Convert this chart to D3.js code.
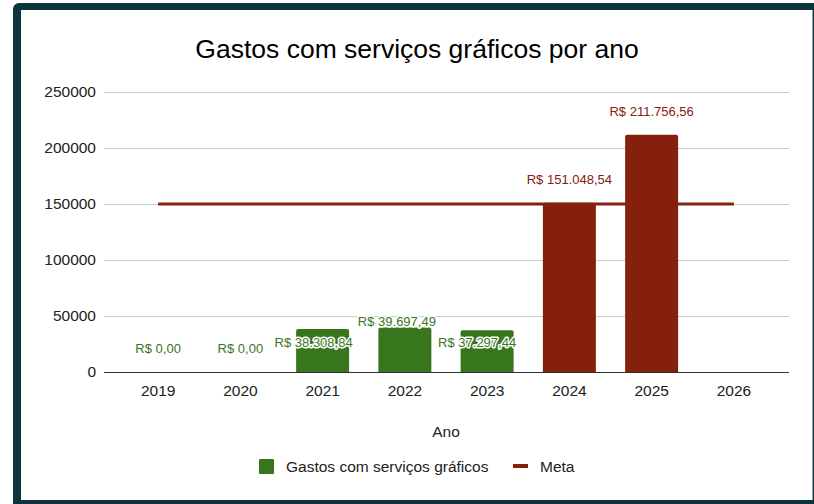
<!DOCTYPE html>
<html>
<head>
<meta charset="utf-8">
<script src="https://cdn.jsdelivr.net/npm/d3@7"></script>
<style>
  html, body { margin: 0; padding: 0; background: #fff; }
  svg { display: block; font-family: "Liberation Sans", Arial, sans-serif; }
</style>
</head>
<body>
<svg id="chart" width="814" height="504"></svg>
<script>
// ---- data ----
const years = ["2019", "2020", "2021", "2022", "2023", "2024", "2025", "2026"];
const gastos = [0, 0, 38308.84, 39697.49, 37297.44, 151048.54, 211756.56, null];
const meta = [150000, 150000, 150000, 150000, 150000, 150000, 150000, 150000];
const yTicks = [0, 50000, 100000, 150000, 200000, 250000];
const title = "Gastos com serviços gráficos por ano";
const xTitle = "Ano";
const seriesNames = ["Gastos com serviços gráficos", "Meta"];

// ---- layout / style ----
const green = "#38761d", red = "#85200c";
const labelNudgeY = [0, 0, 37, 17.5, 36, 0, 0, 0];
const labelNudgeX = [0, 0, -9, -8, -10, 0, 0, 0];

const svg = d3.select("#chart");

// frame
svg.append("rect").attr("x", 13).attr("y", 3).attr("width", 830).attr("height", 530)
  .attr("rx", 6).attr("fill", "#0c343d");
svg.append("rect").attr("x", 21).attr("y", 10).attr("width", 791).attr("height", 490)
  .attr("fill", "#ffffff");
svg.append("line").attr("x1", 812.5).attr("x2", 812.5).attr("y1", 10).attr("y2", 500)
  .attr("stroke", "#9aa5a8").attr("stroke-width", 1);

const x = d3.scaleBand().domain(years).range([117, 775]).paddingInner(0.356).paddingOuter(0.178);
const y = d3.scaleLinear().domain([0, 250000]).range([372, 92]);
const gridX0 = 104, gridX1 = 789;

// title
svg.append("text").attr("x", 417).attr("y", 58).attr("text-anchor", "middle")
  .attr("font-size", 26.5).attr("fill", "#000").text(title);

// gridlines
svg.append("g").selectAll("line").data(yTicks.filter(d => d > 0)).join("line")
  .attr("x1", gridX0).attr("x2", gridX1)
  .attr("y1", d => Math.round(y(d)) + 0.5).attr("y2", d => Math.round(y(d)) + 0.5)
  .attr("stroke", "#cccccc").attr("stroke-width", 1);

// y axis labels
const yAxis = d3.axisLeft(y).tickValues(yTicks).tickSize(0).tickPadding(0).tickFormat(d3.format("d"));
const gy = svg.append("g").attr("transform", `translate(96,0)`).call(yAxis);
gy.select(".domain").remove();
gy.selectAll("text").attr("font-size", 15.5).attr("fill", "#222").attr("font-family", "Liberation Sans, Arial, sans-serif");

// bars
const barData = years.map((yr, i) => ({ yr, v: gastos[i], i })).filter(d => d.v !== null);
const colorOf = d => (d.i >= 5 ? red : green);
svg.append("g").selectAll("path").data(barData.filter(d => d.v > 0)).join("path")
  .attr("d", d => {
    const x0 = x(d.yr), w = x.bandwidth(), y0 = y(d.v), y1 = y(0), r = 2;
    return `M${x0},${y1} L${x0},${y0 + r} Q${x0},${y0} ${x0 + r},${y0} L${x0 + w - r},${y0} Q${x0 + w},${y0} ${x0 + w},${y0 + r} L${x0 + w},${y1} Z`;
  })
  .attr("fill", colorOf);

// baseline
svg.append("line").attr("x1", gridX0).attr("x2", gridX1)
  .attr("y1", y(0) + 0.5).attr("y2", y(0) + 0.5).attr("stroke", "#333").attr("stroke-width", 1.2);

// meta line
const line = d3.line().x((d, i) => x(years[i]) + x.bandwidth() / 2).y(d => y(d));
svg.append("path").datum(meta).attr("d", line).attr("fill", "none")
  .attr("stroke", red).attr("stroke-width", 3);

// x axis labels
const xAxis = d3.axisBottom(x).tickSize(0).tickPadding(0);
const gx = svg.append("g").attr("transform", `translate(0,${y(0)})`).call(xAxis);
gx.select(".domain").remove();
gx.selectAll("text").attr("font-size", 15.5).attr("fill", "#222").attr("dy", null).attr("y", 24)
  .attr("font-family", "Liberation Sans, Arial, sans-serif");

// data labels
const loc = d3.formatLocale({ decimal: ",", thousands: ".", grouping: [3], currency: ["R$ ", ""] });
const fmt = loc.format("$,.2f");
svg.append("g").selectAll("text").data(barData).join("text")
  .attr("x", d => x(d.yr) + x.bandwidth() / 2 + labelNudgeX[d.i])
  .attr("y", d => y(d.v) - 19 + labelNudgeY[d.i])
  .attr("text-anchor", "middle").attr("font-size", 13)
  .attr("fill", colorOf)
  .attr("stroke", d => (d.i >= 2 && d.i <= 4 ? "#fff" : "none"))
  .attr("stroke-width", 3).attr("paint-order", "stroke").attr("stroke-linejoin", "round")
  .text(d => fmt(d.v));

// x title
svg.append("text").attr("x", 446).attr("y", 437).attr("text-anchor", "middle")
  .attr("font-size", 15.5).attr("fill", "#222").text(xTitle);

// legend
const lg = svg.append("g");
lg.append("rect").attr("x", 259).attr("y", 459).attr("width", 15).attr("height", 15).attr("rx", 1).attr("fill", green);
lg.append("text").attr("x", 286).attr("y", 472).attr("font-size", 15.5).attr("fill", "#222").text(seriesNames[0]);
lg.append("line").attr("x1", 513).attr("x2", 528).attr("y1", 466).attr("y2", 466).attr("stroke", red).attr("stroke-width", 4);
lg.append("text").attr("x", 540).attr("y", 472).attr("font-size", 15.5).attr("fill", "#222").text(seriesNames[1]);
</script>
</body>
</html>
